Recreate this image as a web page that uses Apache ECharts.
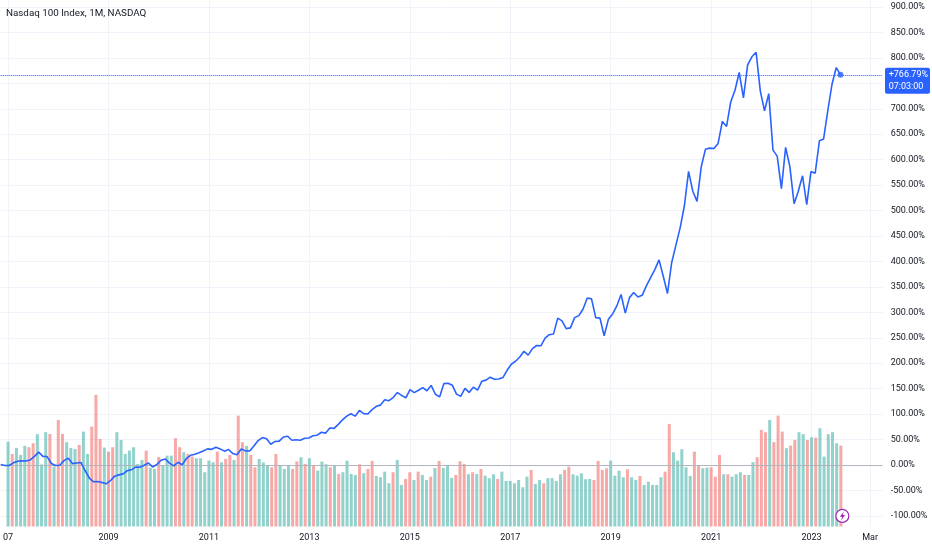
<!DOCTYPE html>
<html><head><meta charset="utf-8">
<script src="https://cdn.jsdelivr.net/npm/echarts@6/dist/echarts.min.js"></script>
<style>html,body{margin:0;padding:0;background:#fff}#c{width:932px;height:550px}</style>
</head><body><div id="c"></div>
<script>
// ---------- data ----------
const chartTitle = 'Nasdaq 100 Index, 1M, NASDAQ';
const startYear = 2007;
const monthSlots = 210;              // Jan 2007 .. Jun 2024 (time axis incl. empty future)
const extraLabel = '2024-03';        // "Mar" label on time axis
const extraLabelText = 'Mar';
const countdown = '07:03:00';

// monthly % change vs. first bar (Jan 2007 .. Aug 2023)
const pctChange = [
  1, -1, -1, 4.3, 7.4, 8.1, 8, 9.9, 17, 25.2, 16.9, 16.6,
  2.9, -0.9, -0.4, 8.6, 13.5, 2.8, 3.9, 5, -10.8, -25.7, -33, -32.5,
  -34.5, -37, -30.8, -21.9, -19.4, -17.4, -11, -9.2, -4.1, -4.4, -0.6, 4,
  -3.8, 0.9, 9.4, 11.8, 3.7, -1.6, 5.3, 0.4, 12.9, 19.1, 21, 24,
  27.7, 31.7, 30.8, 34.8, 31.7, 27.2, 30.5, 22.5, 20.3, 31.4, 27.8, 27.4,
  37.4, 48, 54, 51.5, 40.6, 46.3, 47, 55, 56.5, 48.6, 49.7, 48.8,
  52.7, 53.1, 57.6, 58.6, 64.4, 62.7, 72.8, 71.9, 79.9, 88.8, 96, 100.8,
  96, 107.3, 101, 100.2, 108.9, 115.3, 117.7, 128.3, 126.4, 132.5, 142.3, 136.9,
  132.1, 148.3, 142.3, 146.9, 152.1, 145.9, 156.4, 139, 133.8, 159.9, 160.8, 156.8,
  139.3, 134.9, 150.7, 142.7, 152.9, 147, 164.5, 166.8, 172.6, 168.5, 169, 171.9,
  186.1, 198, 204, 212.2, 223.6, 215.8, 228.8, 234.8, 234.3, 249.4, 256, 257.6,
  288.6, 283.3, 268, 269.4, 289.6, 293.6, 306.6, 328.1, 326.5, 289.6, 288.6, 254,
  286.2, 296.8, 312.5, 335.1, 298.5, 328.9, 338.9, 330.1, 333.4, 352, 368, 384,
  403, 371, 337, 398, 432, 466, 509, 577, 538, 518, 586, 620.6,
  622.7, 621.8, 632, 675, 665.3, 713.8, 736.5, 771.3, 721.4, 786.3, 802.2, 811,
  734.8, 696, 729.7, 618.8, 607, 543, 624, 586.2, 513.5, 537.8, 568.3, 511.7,
  576.7, 573.3, 637, 640.7, 697, 748.8, 781, 766.79
];

// monthly volume (relative units)
const volume = [
  84.8, 72.5, 78.5, 71.5, 80.5, 79.2, 83.2, 92.2, 62, 94.2,
  92.5, 60, 106.5, 92.5, 84.2, 78.5, 77.5, 81.5, 94.8, 72.5,
  99.8, 131.5, 87.5, 78.8, 74.8, 79.2, 94.2, 86.5, 72.5, 75.8,
  79.2, 62.5, 66.5, 75.8, 58.8, 57.5, 69.5, 61.5, 70.8, 70.8,
  88.2, 79.2, 74.2, 72.5, 69.8, 68.2, 68.2, 54.2, 65.8, 64.2,
  74.8, 64.2, 67.5, 71.5, 66.5, 110.8, 84.2, 80.5, 71.5, 59.2,
  67.5, 64, 61.5, 59.2, 72.5, 61, 57.5, 60.5, 57.5, 65,
  69.2, 62.5, 68.2, 60.5, 55.8, 64.8, 62.2, 59.2, 61.2, 52.5,
  54.2, 65.8, 52.5, 51.5, 62.2, 53.2, 57.5, 65.5, 50.5, 49.2,
  54.8, 43.2, 54.2, 66.5, 41.5, 47.5, 54.2, 46.5, 54.8, 51.5,
  46.5, 49.8, 58.5, 65.5, 58.5, 60.5, 48.5, 51.5, 65.2, 62.5,
  52.2, 54.2, 52.5, 57.5, 50.8, 48.2, 52.2, 47.5, 54.8, 45.5,
  45.5, 43.2, 46.5, 39.2, 49.8, 56.5, 42.5, 46.5, 43.2, 48.2,
  48.2, 45.5, 52.2, 56.5, 59.8, 52.2, 50.8, 53.2, 47.2, 47.5,
  46.5, 65.5, 56.5, 58.2, 65.8, 50.8, 55.8, 49.2, 57.2, 49.2,
  46.5, 50.5, 41.5, 44.8, 41.5, 41.5, 49.2, 54.8, 102.5, 74.2,
  65.8, 77.2, 59.2, 50.5, 74.8, 60.5, 58.2, 58.8, 59.2, 49.8,
  71.5, 52.2, 52.2, 49.8, 52.2, 54.2, 51.5, 51.5, 64.2, 69.2,
  96.5, 94.2, 106.5, 84.2, 110.8, 94.8, 78.2, 80.8, 86.5, 94.2,
  92.2, 86.5, 89.2, 88.8, 98.2, 69.8, 92.2, 94.2, 83.2, 80.8
];

// bar direction: G = up month, R = down month
const volumeDir = (
  'GRGGGRRGGG' + 'RGRRGGGRGG' + 'RRRGRRGGGG' + 'GGGRGGRGGG' + 'RRGRRGGGGG' +
  'RGRRGRRGRR' + 'GGGRRGGGRR' + 'GRGRGGGRGR' + 'GGGGRGRRGG' + 'GGRGGRRGRG' +
  'GRGRGGGRRR' + 'GRGRGGGRGG' + 'GGGGGRGGRG' + 'GGGRRGGGGG' + 'RRRRGGGGRG' +
  'GRGGGGGRRG' + 'GGGGRRGGRR' + 'RGRGGGRGGR' + 'RRGRRRGRRG' + 'GRGRGGGGGR'
).split('');

const yMin = -100, yMax = 900, yStep = 50;

// ---------- build ----------
const months = [];
for (let k = 0; k < monthSlots; k++) {
  const y = startYear + Math.floor(k / 12);
  const m = (k % 12) + 1;
  months.push(y + '-' + (m < 10 ? '0' + m : m));
}
const isLabel = (val) => {
  const [y, m] = val.split('-');
  return (m === '01' && (+y) % 2 === 1) || val === extraLabel;
};
// first year label sits on the left edge and is cut there, only its last two digits show
const labelText = (val, idx) => {
  if (val === extraLabel) return extraLabelText;
  const y = val.split('-')[0];
  return idx === 0 ? y.slice(2) : y;
};
const lastIdx = pctChange.length - 1;
const lastVal = pctChange[lastIdx];

const FONT = 'Roboto, "Liberation Sans", Arial, sans-serif';
const TXT = '#131722';
const GRIDC = '#f0f3fa';
const BLUE = '#2962FF';

const gridL = 0.7, gridR = 49.3;

const chart = echarts.init(document.getElementById('c'), null, {renderer: 'canvas'});
chart.setOption({
  animation: false,
  backgroundColor: '#ffffff',
  title: {
    text: chartTitle, left: 6, top: 9, padding: 0,
    textStyle: {fontFamily: FONT, fontSize: 9.8, fontWeight: 'normal', color: TXT}
  },
  grid: [
    {left: gridL, right: gridR, top: 7, bottom: 34.1},
    {left: gridL, right: gridR, top: 0, bottom: 23.5}
  ],
  xAxis: [
    {type: 'category', gridIndex: 0, data: months, boundaryGap: false,
     axisLine: {show: false}, axisTick: {show: false}, axisLabel: {show: false}, splitLine: {show: false}},
    {type: 'category', gridIndex: 1, data: months, boundaryGap: false,
     axisLine: {show: false}, axisTick: {show: false},
     axisLabel: {
       interval: (i, v) => isLabel(v),
       formatter: labelText,
       fontFamily: FONT, fontSize: 9, color: TXT, margin: 7, hideOverlap: false
     },
     splitLine: {show: true, interval: (i, v) => isLabel(v), lineStyle: {color: GRIDC, width: 1}}}
  ],
  yAxis: [
    {type: 'value', gridIndex: 0, position: 'right', min: yMin, max: yMax, interval: yStep,
     axisLine: {show: false}, axisTick: {show: false},
     axisLabel: {formatter: (v) => v.toFixed(2) + '%', fontFamily: FONT, fontSize: 9, color: TXT, margin: 8},
     splitLine: {show: true, lineStyle: {color: GRIDC, width: 1}}},
    {type: 'value', gridIndex: 1, min: 0, max: (e) => e.max * 4, show: false,
     splitLine: {show: false}}
  ],
  series: [
    {
      type: 'bar', xAxisIndex: 1, yAxisIndex: 1, data: volume, barWidth: '72%', silent: true, z: 1,
      itemStyle: {color: (p) => volumeDir[p.dataIndex] === 'G' ? 'rgba(38,166,154,0.5)' : 'rgba(239,83,80,0.5)'}
    },
    {
      type: 'line', xAxisIndex: 0, yAxisIndex: 0, data: pctChange, showSymbol: false, z: 5, silent: true,
      lineStyle: {color: BLUE, width: 1.6}, itemStyle: {color: BLUE},
      markLine: {
        silent: true, symbol: 'none', label: {show: false}, animation: false,
        data: [
          {yAxis: 0, lineStyle: {type: 'solid', color: '#b2b5be', width: 1}},
          {yAxis: lastVal, lineStyle: {type: 'dotted', color: BLUE, width: 1}}
        ]
      }
    },
    {
      type: 'scatter', xAxisIndex: 0, yAxisIndex: 0, z: 6, silent: true,
      data: [[months[lastIdx], lastVal]], symbolSize: 6, itemStyle: {color: BLUE}
    }
  ]
});

// last-value badge and event icon positioned through the chart's own scales
const py = chart.convertToPixel({yAxisIndex: 0}, lastVal);
const px = chart.convertToPixel({xAxisIndex: 1}, months[lastIdx]);
const pBottom = chart.convertToPixel({yAxisIndex: 0}, yMin);
const axisX = 932 - gridR;
const sign = lastVal >= 0 ? '+' : '';
chart.setOption({
  graphic: [
    {type: 'rect', shape: {x: axisX + 2.3, y: py - 7, width: 45, height: 26, r: 2}, style: {fill: BLUE}, z: 100},
    {type: 'text', x: axisX + 6, y: py - 5.5, z: 101,
     style: {text: sign + lastVal.toFixed(2) + '%\n' + countdown, fill: '#ffffff', font: '9px ' + FONT, lineHeight: 11.5}},
    {type: 'circle', shape: {cx: px + 1.5, cy: pBottom, r: 6.5}, style: {fill: '#ffffff', stroke: '#9c27b0', lineWidth: 1.2}, z: 100},
    {type: 'polygon', z: 101,
     shape: {points: [[px + 3, pBottom - 4.5], [px - 1, pBottom + 0.8], [px + 1.4, pBottom + 0.8], [px + 0, pBottom + 4.8], [px + 4.2, pBottom - 0.8], [px + 1.8, pBottom - 0.8]]},
     style: {fill: '#9c27b0'}}
  ]
});
</script></body></html>
